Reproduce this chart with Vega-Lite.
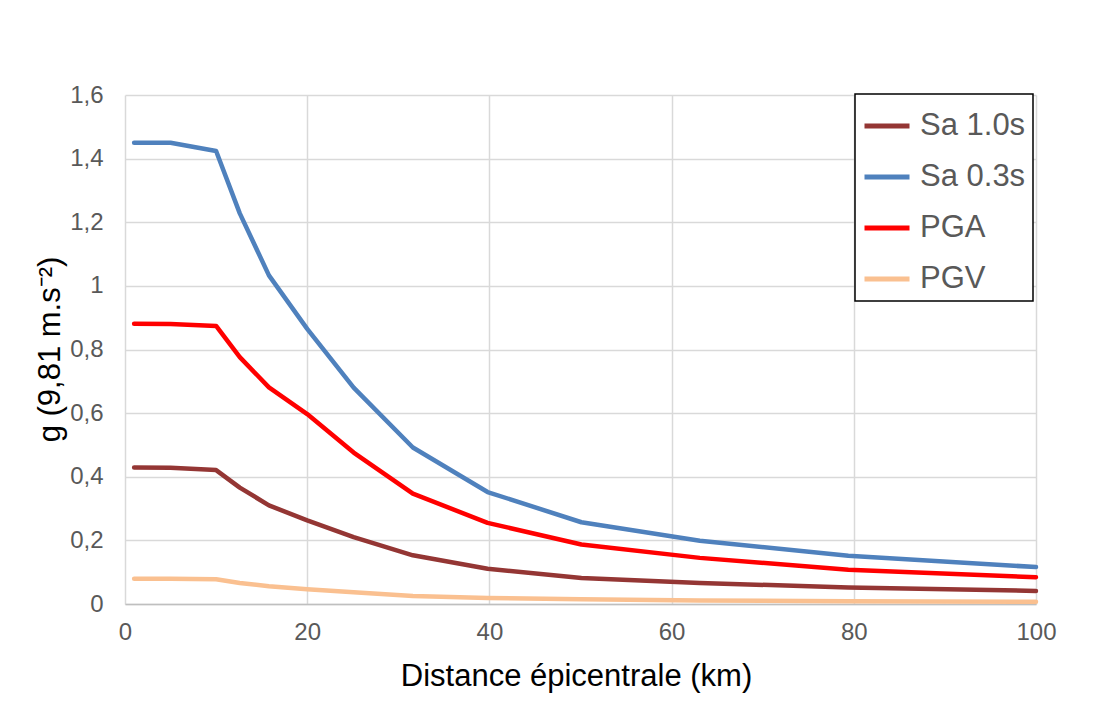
{
  "$schema": "https://vega.github.io/schema/vega-lite/v6.json",
  "width": 911,
  "height": 509,
  "autosize": {"type": "none"},
  "padding": {"left": 125, "top": 95, "right": 70, "bottom": 115},
  "background": "white",
  "config": {
    "view": {"stroke": null},
    "font": "Liberation Sans",
    "legend": {"strokeWidth": 1.5}
  },
  "data": {
    "values": [
      {"d": 1, "s": "Sa 1.0s", "v": 0.429},
      {"d": 5, "s": "Sa 1.0s", "v": 0.428},
      {"d": 10, "s": "Sa 1.0s", "v": 0.421},
      {"d": 12.6, "s": "Sa 1.0s", "v": 0.366},
      {"d": 15.8, "s": "Sa 1.0s", "v": 0.31},
      {"d": 20, "s": "Sa 1.0s", "v": 0.263},
      {"d": 25.1, "s": "Sa 1.0s", "v": 0.21},
      {"d": 31.6, "s": "Sa 1.0s", "v": 0.153},
      {"d": 39.8, "s": "Sa 1.0s", "v": 0.111},
      {"d": 50.1, "s": "Sa 1.0s", "v": 0.082},
      {"d": 63.1, "s": "Sa 1.0s", "v": 0.066},
      {"d": 79.4, "s": "Sa 1.0s", "v": 0.052},
      {"d": 100, "s": "Sa 1.0s", "v": 0.041},
      {"d": 1, "s": "Sa 0.3s", "v": 1.45},
      {"d": 5, "s": "Sa 0.3s", "v": 1.45},
      {"d": 10, "s": "Sa 0.3s", "v": 1.424},
      {"d": 12.6, "s": "Sa 0.3s", "v": 1.228},
      {"d": 15.8, "s": "Sa 0.3s", "v": 1.033},
      {"d": 20, "s": "Sa 0.3s", "v": 0.865},
      {"d": 25.1, "s": "Sa 0.3s", "v": 0.68},
      {"d": 31.6, "s": "Sa 0.3s", "v": 0.492},
      {"d": 39.8, "s": "Sa 0.3s", "v": 0.352},
      {"d": 50.1, "s": "Sa 0.3s", "v": 0.257},
      {"d": 63.1, "s": "Sa 0.3s", "v": 0.199},
      {"d": 79.4, "s": "Sa 0.3s", "v": 0.152},
      {"d": 100, "s": "Sa 0.3s", "v": 0.116},
      {"d": 1, "s": "PGA", "v": 0.881},
      {"d": 5, "s": "PGA", "v": 0.88},
      {"d": 10, "s": "PGA", "v": 0.874},
      {"d": 12.6, "s": "PGA", "v": 0.776},
      {"d": 15.8, "s": "PGA", "v": 0.681},
      {"d": 20, "s": "PGA", "v": 0.597},
      {"d": 25.1, "s": "PGA", "v": 0.476},
      {"d": 31.6, "s": "PGA", "v": 0.347},
      {"d": 39.8, "s": "PGA", "v": 0.255},
      {"d": 50.1, "s": "PGA", "v": 0.187},
      {"d": 63.1, "s": "PGA", "v": 0.145},
      {"d": 79.4, "s": "PGA", "v": 0.108},
      {"d": 100, "s": "PGA", "v": 0.084},
      {"d": 1, "s": "PGV", "v": 0.079},
      {"d": 5, "s": "PGV", "v": 0.079},
      {"d": 10, "s": "PGV", "v": 0.078},
      {"d": 12.6, "s": "PGV", "v": 0.066},
      {"d": 15.8, "s": "PGV", "v": 0.056},
      {"d": 20, "s": "PGV", "v": 0.046},
      {"d": 25.1, "s": "PGV", "v": 0.037},
      {"d": 31.6, "s": "PGV", "v": 0.025},
      {"d": 39.8, "s": "PGV", "v": 0.019},
      {"d": 50.1, "s": "PGV", "v": 0.015},
      {"d": 63.1, "s": "PGV", "v": 0.011},
      {"d": 79.4, "s": "PGV", "v": 0.009},
      {"d": 100, "s": "PGV", "v": 0.007}
    ]
  },
  "mark": {"type": "line", "strokeWidth": 4.5, "strokeCap": "round", "strokeJoin": "round"},
  "encoding": {
    "x": {
      "field": "d",
      "type": "quantitative",
      "scale": {"domain": [0, 100], "nice": false},
      "axis": {
        "values": [0, 20, 40, 60, 80, 100],
        "title": "Distance épicentrale (km)",
        "titleFontSize": 31,
        "titleFontWeight": "normal",
        "titleColor": "black",
        "titleBaseline": "alphabetic",
        "titleX": 451,
        "titleY": 81,
        "labelFontSize": 24,
        "labelColor": "#595959",
        "labelPadding": 16,
        "ticks": false,
        "grid": true,
        "gridColor": "#D9D9D9",
        "gridWidth": 1.5,
        "domainColor": "#BFBFBF",
        "domainWidth": 1.5,
        "labelFlush": false
      }
    },
    "y": {
      "field": "v",
      "type": "quantitative",
      "scale": {"domain": [0, 1.6], "nice": false},
      "axis": {
        "values": [0, 0.2, 0.4, 0.6, 0.8, 1, 1.2, 1.4, 1.6],
        "labelExpr": "replace(format(datum.value, '.1~f'), '.', ',')",
        "title": "g (9,81 m.s⁻²)",
        "titleFontSize": 31,
        "titleFontWeight": "normal",
        "titleColor": "black",
        "titleAngle": -90,
        "titleBaseline": "alphabetic",
        "titleAlign": "center",
        "titleX": -66,
        "titleY": 254,
        "labelFontSize": 24,
        "labelColor": "#595959",
        "labelPadding": 22,
        "ticks": false,
        "domain": false,
        "grid": true,
        "gridColor": "#D9D9D9",
        "gridWidth": 1.5,
        "labelFlush": false
      }
    },
    "color": {
      "field": "s",
      "type": "nominal",
      "scale": {
        "domain": ["Sa 1.0s", "Sa 0.3s", "PGA", "PGV"],
        "range": ["#943634", "#4F81BD", "#FF0000", "#FAC090"]
      },
      "legend": {
        "title": null,
        "orient": "none",
        "legendX": 730,
        "legendY": -1,
        "strokeColor": "black",
        "fillColor": "white",
        "padding": 7,
        "symbolType": "stroke",
        "symbolStrokeWidth": 5,
        "symbolSize": 2025,
        "labelFontSize": 31,
        "labelColor": "#595959",
        "labelOffset": 8,
        "rowPadding": 11,
        "labelLimit": 300
      }
    }
  }
}
